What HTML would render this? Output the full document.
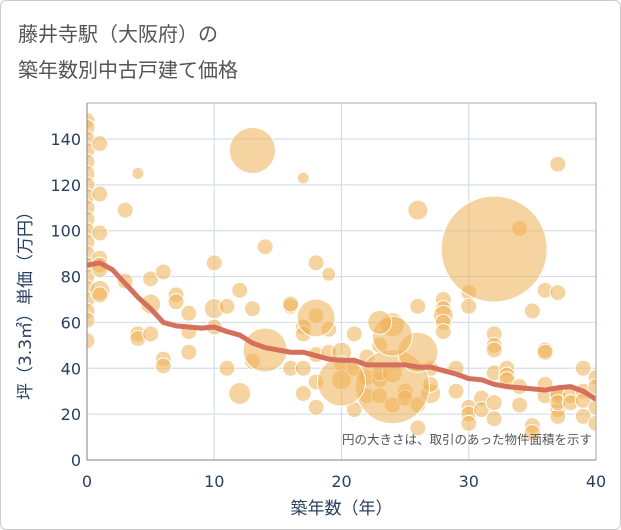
<!DOCTYPE html>
<html><head><meta charset="utf-8"><style>
body{margin:0;background:#fff;}
#wrap{position:relative;width:619px;height:528px;border:1px solid #ccc;border-radius:6px;overflow:hidden;background:#fff;font-family:"DejaVu Sans","Noto Sans CJK JP",sans-serif;}
.title{position:absolute;left:17px;font-size:20px;color:#555;}
</style></head><body>
<div id="wrap">
<div class="title" style="top:17px">藤井寺駅（大阪府）の</div>
<div class="title" style="top:53px">築年数別中古戸建て価格</div>
<svg id="chart" width="621" height="530" style="position:absolute;left:-1px;top:-1px"></svg>
</div>
<script>
const xTicks=[0,10,20,30,40];
const yTicks=[0,20,40,60,80,100,120,140];
const bubX=[0,0,0,0,0,0,0,0,0,0,0,0,0,0,0,0,0,0,0,0,1,1,1,1,1,1,1,1,3,3,4,4,4,5,5,5,6,6,6,7,7,8,8,8,10,10,10,11,11,12,12,13,13,14,16,16,16,17,17,17,17,17,18,18,18,18,18,19,19,19,20,20,20,21,21,21,22,22,22,23,23,23,23,24,24,24,25,25,26,26,26,26,27,27,27,28,28,28,28,28,29,29,30,30,30,30,30,31,31,32,32,32,32,32,32,33,33,33,34,34,34,35,35,35,36,36,36,36,36,37,37,37,37,37,37,37,38,38,39,39,39,39,40,40,40,40,13,32,24,26,24,20,18,23,14];
const bubY=[148,145,140,135,130,125,120,115,110,105,100,95,90,85,80,75,70,65,61,52,138,116,99,88,85,83,74,72,109,78,125,55,53,79,68,55,82,44,41,72,69,64,56,47,86,66,58,67,40,74,29,66,43,93,67,68,40,123,58,29,40,55,86,63,46,34,23,81,57,47,47,42,35,40,55,22,36,28,45,28,35,38,50,59,38,24,30,27,109,67,14,24,29,33,40,70,66,63,60,56,40,30,73,67,23,20,16,27,22,55,50,48,38,25,18,40,37,35,101,24,32,65,15,12,74,48,47,33,28,129,73,22,19,29,28,25,28,25,40,30,26,19,36,32,23,16,135,92,32,47,54,34,62,60,48];
const bubR=[8,8,8,8,8,8,8,8,8,8,8,8,8,8,8,8,8,8,8,8,8,8,8,8,8,8,10,8,8,8,6,8,8,8,10,8,8,8,8,8,8,8,8,8,8,10,8,8,8,8,11,8,8,8,8,8,8,6,8,8,8,8,8,8,8,8,8,7,8,8,10,8,10,8,8,8,8,8,8,8,8,8,8,12,10,8,8,8,10,8,8,8,10,8,8,8,8,10,8,8,8,8,8,8,8,8,8,8,8,8,8,8,8,8,8,8,8,8,8,8,8,8,8,8,8,8,8,8,8,8,8,8,8,8,8,8,8,8,8,8,8,8,8,8,8,8,23,53,37,20,20,24,19,12,22];
const trendX=[0,1,2,3,4,5,6,7,8,9,10,11,12,13,14,15,16,17,18,19,20,21,22,23,24,25,26,27,28,29,30,31,32,33,34,35,36,37,38,39,40];
const trendY=[85,86,83,77,71,66,60,58.5,58,57.5,58,56,54.5,51,49,48,47,47,45.5,44,43.5,43.5,41.5,41.5,41.5,41.5,40.5,40.5,39,37.5,35.5,35,33,32,31.5,31,30.5,31.5,32,30,26.5];
const NS="http://www.w3.org/2000/svg";
const svg=document.getElementById('chart');
const L=87,R=596,T=103,B=460,XMAX=40,YMAX=155.7;
const FONT='DejaVu Sans, Noto Sans CJK JP, sans-serif';
const sx=v=>L+v/XMAX*(R-L), sy=v=>B-v/YMAX*(B-T);
function mk(t,a,p){const e=document.createElementNS(NS,t);for(const k in a)e.setAttribute(k,a[k]);(p||svg).appendChild(e);return e;}
const clip=mk('clipPath',{id:'pc'});mk('rect',{x:L,y:T,width:R-L,height:B-T},clip);
yTicks.forEach(v=>{const g=mk('line',{x1:L,x2:R,y1:sy(v),y2:sy(v),stroke:'#d5dfea','stroke-width':1.2});

const t=mk('text',{x:L-6,y:sy(v)+6,'text-anchor':'end','font-size':16,fill:'#2a3f5f','font-family':FONT});t.textContent=v;
});
xTicks.forEach(v=>{const g=mk('line',{x1:sx(v),x2:sx(v),y1:T,y2:B,stroke:'#d5dfea','stroke-width':1.2});

const t=mk('text',{x:sx(v),y:B+27,'text-anchor':'middle','font-size':16,fill:'#2a3f5f','font-family':FONT});t.textContent=v;
});
const bg=mk('g',{'clip-path':'url(#pc)'});

bubX.forEach((x,i)=>{const c=mk('circle',{cx:sx(x),cy:sy(bubY[i]),r:bubR[i],fill:'rgba(238,176,84,0.55)',stroke:'#fff','stroke-width':1},bg);
});
const tl=mk('polyline',{points:trendX.map((x,i)=>sx(x)+','+sy(trendY[i])).join(' '),fill:'none',stroke:'#d4705c','stroke-width':5,'stroke-linejoin':'round','clip-path':'url(#pc)'});

const ax=mk('path',{d:`M${L},${T}V${B}H${R}`,fill:'none',stroke:'#888','stroke-width':1});

const bd=mk('path',{d:`M${L},${T}H${R}V${B}`,fill:'none',stroke:'#aaa','stroke-width':1});

const an=mk('text',{x:R-4,y:444,'text-anchor':'end','font-size':12.5,fill:'#555','font-family':FONT});an.textContent='円の大きさは、取引のあった物件面積を示す';

const xt=mk('text',{x:(L+R)/2,y:514,'text-anchor':'middle','font-size':17,fill:'#2a3f5f','font-family':FONT});xt.textContent='築年数（年）';

const yt=mk('text',{x:0,y:0,'text-anchor':'middle','font-size':17,fill:'#2a3f5f','font-family':FONT,transform:`translate(31,${(T+B)/2+20}) rotate(-90)`});yt.textContent='坪（3.3㎡）単価（万円）';

</script>
</body></html>
